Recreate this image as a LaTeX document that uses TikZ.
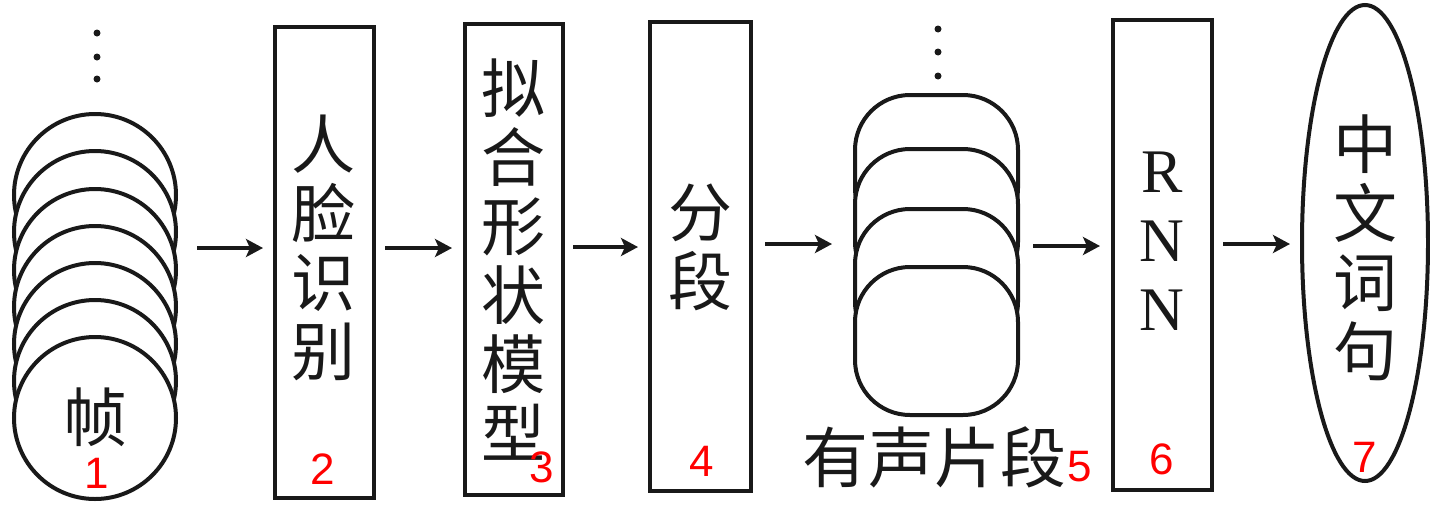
\documentclass[tikz,border=0pt]{standalone}
\usepackage{fontspec}
\newfontfamily\cjk{Noto Sans CJK SC}
\newfontfamily\numfont{Liberation Sans}
\newfontfamily\latfont{Liberation Serif}
\usetikzlibrary{arrows.meta,shapes.geometric}
\tikzset{
  box/.style={draw=black!90, line width=4.5pt, rectangle, inner sep=0pt},
  frame/.style={draw=black!90, fill=white, line width=4pt, circle, minimum size=162pt, inner sep=0pt},
  seg/.style={draw=black!90, fill=white, line width=4pt, rectangle, rounded corners=55pt, minimum width=163pt, minimum height=148pt, inner sep=0pt},
  cjktext/.style={font=\cjk\fontsize{64}{69}\selectfont, align=center, inner sep=0pt, text=black!90},
  num/.style={font=\numfont\fontsize{44}{44}\selectfont, text=red, inner sep=0pt},
  arr/.style={line width=4.5pt, draw=black!90, -{Stealth[length=17pt, width=18pt, inset=4pt]}},
  dot/.style={circle, fill=black!90, minimum size=7pt, inner sep=0pt}
}
\begin{document}
\begin{tikzpicture}[x=1pt, y=-1pt]
\useasboundingbox (0,0) rectangle (1430,504);
% frames stack
\node[dot] (d1) at (97,33) {};
\node[dot] (d2) at (97,57) {};
\node[dot] (d3) at (97,79) {};
\foreach \i/\yy in {1/195,2/232,3/270,4/307,5/344,6/381,7/418} {
  \node[frame] (fr\i) at (95,\yy) {};
}
\node[cjktext] (tfr) at (95,417) {帧};
\node[num] (n1) at (97,473) {1};
% box 2
\node[box, minimum width=99pt, minimum height=471pt] (b2) at (324.5,262.5) {};
\node[cjktext] (t2) at (323,248) {人\\脸\\识\\别};
\node[num] (n2) at (323,469) {2};
% box 3
\node[box, minimum width=98pt, minimum height=471pt] (b3) at (514,259.5) {};
\node[cjktext] (t3) at (513,259.5) {拟\\合\\形\\状\\模\\型};
\node[num] (n3) at (542,467) {3};
% box 4
\node[box, minimum width=101pt, minimum height=469pt] (b4) at (700.5,256.5) {};
\node[cjktext] (t4) at (700,247.5) {分\\段};
\node[num] (n4) at (702,461) {4};
% segments stack
\node[dot] (e1) at (938,29) {};
\node[dot] (e2) at (938,52) {};
\node[dot] (e3) at (938,76) {};
\foreach \i/\yy in {1/169,2/223,3/283,4/341} {
  \node[seg] (sg\i) at (936.5,\yy) {};
}
\node[cjktext, font=\cjk\fontsize{66}{69}\selectfont] (t5) at (934,457) {有声片段};
\node[num] (n5) at (1080,467) {5};
% box 6
\node[box, minimum width=99pt, minimum height=470pt] (b6) at (1162.5,255) {};
\node[font=\latfont\fontsize{62}{69}\selectfont, align=center, inner sep=0pt, text=black!90] (t6) at (1162,241) {R\\N\\N};
\node[num] (n6) at (1162,459) {6};
% ellipse 7
\node[draw=black!90, line width=4pt, ellipse, minimum width=126pt, minimum height=476pt, inner sep=0pt] (el) at (1365,243) {};
\node[cjktext] (t7) at (1365,248) {中\\文\\词\\句};
\node[num] (n7) at (1365,457) {7};
% arrows
\coordinate (a1s) at (197,248); \coordinate (a1e) at (263,248);
\coordinate (a2s) at (385,248); \coordinate (a2e) at (452,248);
\coordinate (a3s) at (573,247); \coordinate (a3e) at (638,247);
\coordinate (a4s) at (765,244); \coordinate (a4e) at (832,244);
\coordinate (a5s) at (1033,246); \coordinate (a5e) at (1100,246);
\coordinate (a6s) at (1223,244); \coordinate (a6e) at (1290,244);
\draw[arr] (a1s) -- (a1e);
\draw[arr] (a2s) -- (a2e);
\draw[arr] (a3s) -- (a3e);
\draw[arr] (a4s) -- (a4e);
\draw[arr] (a5s) -- (a5e);
\draw[arr] (a6s) -- (a6e);
\end{tikzpicture}
\end{document}
